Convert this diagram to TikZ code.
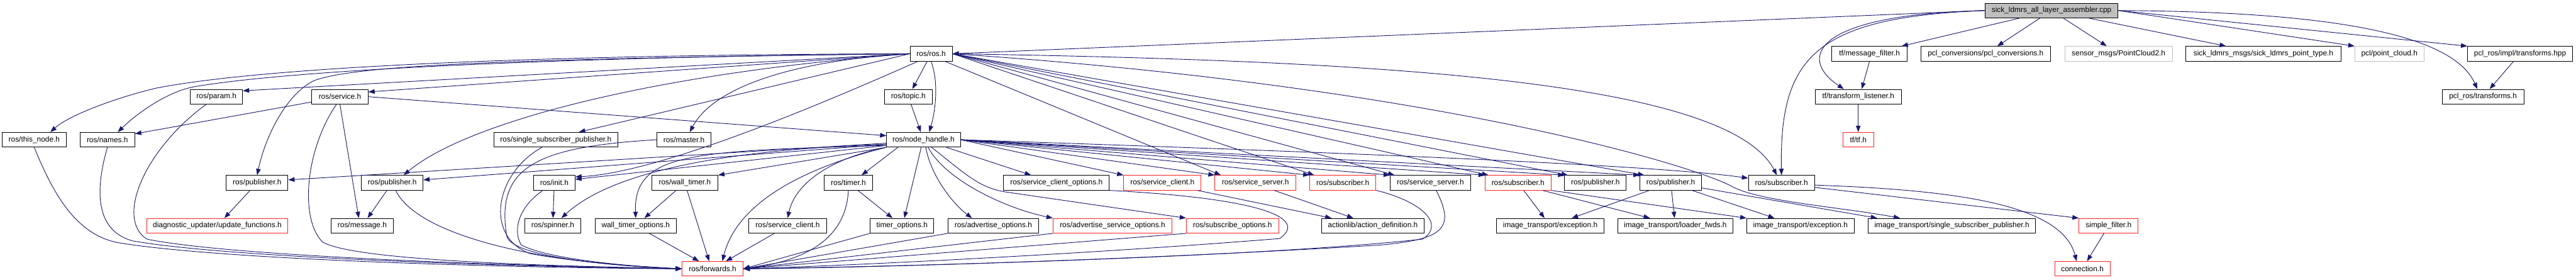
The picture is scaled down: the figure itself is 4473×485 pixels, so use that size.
\documentclass[tikz,border=0pt]{standalone}
\usepackage{fontspec}
\setmainfont{Liberation Sans}
\usetikzlibrary{arrows.meta,calc}
\definecolor{edgeblue}{HTML}{191970}
\definecolor{nfgray}{HTML}{BFBFBF}
\definecolor{boxred}{HTML}{FF2020}
\tikzset{
  box/.style={draw=black, line width=1pt, fill=white, inner sep=0pt, text=black,
    font=\fontsize{13}{15}\selectfont},
  redbox/.style={box, draw=boxred},
  graybox/.style={box, draw=nfgray},
  mainbox/.style={box, fill=nfgray},
  e/.style={draw=edgeblue, line width=1pt, -{Triangle[length=11pt,width=8pt]}},
}
\newcommand\mkbox[6]{%
  \node[#5, minimum width={#3pt-#2pt}, minimum height=25.5pt, anchor=center]
    (#1) at ({(#2+#3)/2},#4) {#6};}
\begin{document}
\begin{tikzpicture}[x=1pt,y=-1pt]
\useasboundingbox (0,0) rectangle (4473,485);
% row 0
\mkbox{cpp}{3446.7}{3677.9}{18.3}{mainbox}{sick\_ldmrs\_all\_layer\_assembler.cpp}
% row 1
\mkbox{ros}{1580.3}{1653.5}{93.3}{box}{ros/ros.h}
\mkbox{msgfilter}{3181}{3311.4}{93.3}{box}{tf/message\_filter.h}
\mkbox{pclconv}{3335.7}{3560.1}{93.3}{box}{pcl\_conversions/pcl\_conversions.h}
\mkbox{pctwo}{3585.3}{3772}{93.3}{graybox}{sensor\_msgs/PointCloud2.h}
\mkbox{ptype}{3795.6}{4064.8}{93.3}{box}{sick\_ldmrs\_msgs/sick\_ldmrs\_point\_type.h}
\mkbox{pcloud}{4089}{4208.8}{93.3}{graybox}{pcl/point\_cloud.h}
\mkbox{tfhpp}{4284.7}{4467}{93.3}{box}{pcl\_ros/impl/transforms.hpp}
% row 2
\mkbox{param}{330.6}{421.2}{167.8}{box}{ros/param.h}
\mkbox{service}{541.5}{639}{167.8}{box}{ros/service.h}
\mkbox{topic}{1535.7}{1618.6}{167.8}{box}{ros/topic.h}
\mkbox{listener}{3152}{3301.3}{167.8}{box}{tf/transform\_listener.h}
\mkbox{tfh}{4240.8}{4382.3}{167.8}{box}{pcl\_ros/transforms.h}
% row 3
\mkbox{thisnode}{3.9}{114.9}{242.5}{box}{ros/this\_node.h}
\mkbox{names}{139}{234}{242.5}{box}{ros/names.h}
\mkbox{ssp}{857.8}{1072.5}{242.5}{box}{ros/single\_subscriber\_publisher.h}
\mkbox{master}{1140.4}{1234.9}{242.5}{box}{ros/master.h}
\mkbox{nh}{1539.6}{1667.6}{242.5}{box}{ros/node\_handle.h}
\mkbox{tftf}{3200}{3253.3}{242.5}{redbox}{tf/tf.h}
% row 4
\mkbox{pubA}{393}{500}{317.2}{box}{ros/publisher.h}
\mkbox{pubB}{627.7}{734.5}{317.2}{box}{ros/publisher.h}
\mkbox{init}{926.6}{998.4}{317.2}{box}{ros/init.h}
\mkbox{walltimer}{1131.7}{1246.5}{317.2}{box}{ros/wall\_timer.h}
\mkbox{timer}{1431.2}{1515}{317.2}{box}{ros/timer.h}
\mkbox{sco}{1742.7}{1926}{317.2}{box}{ros/service\_client\_options.h}
\mkbox{scR}{1951.2}{2085.5}{317.2}{redbox}{ros/service\_client.h}
\mkbox{ssR}{2109.7}{2250}{317.2}{redbox}{ros/service\_server.h}
\mkbox{subR1}{2274.3}{2389.2}{317.2}{redbox}{ros/subscriber.h}
\mkbox{ssB}{2413.9}{2553.5}{317.2}{box}{ros/service\_server.h}
\mkbox{subR2}{2578.7}{2693.1}{317.2}{redbox}{ros/subscriber.h}
\mkbox{pubC}{2716.9}{2823.6}{317.2}{box}{ros/publisher.h}
\mkbox{pubD}{2847.7}{2954.6}{317.2}{box}{ros/publisher.h}
\mkbox{subB}{3036.1}{3150.5}{317.2}{box}{ros/subscriber.h}
% row 5
\mkbox{diag}{254.5}{500}{391.8}{redbox}{diagnostic\_updater/update\_functions.h}
\mkbox{message}{575}{683}{391.8}{box}{ros/message.h}
\mkbox{spinner}{911}{1008.5}{391.8}{box}{ros/spinner.h}
\mkbox{wto}{1033.3}{1174.3}{391.8}{box}{wall\_timer\_options.h}
\mkbox{scB}{1300.4}{1435}{391.8}{box}{ros/service\_client.h}
\mkbox{tmo}{1511}{1621.5}{391.8}{box}{timer\_options.h}
\mkbox{ao}{1646.3}{1803.3}{391.8}{box}{ros/advertise\_options.h}
\mkbox{aso}{1828.5}{2035}{391.8}{redbox}{ros/advertise\_service\_options.h}
\mkbox{so}{2060}{2220.2}{391.8}{redbox}{ros/subscribe\_options.h}
\mkbox{actdef}{2294.6}{2473}{391.8}{box}{actionlib/action\_definition.h}
\mkbox{excA}{2598.6}{2785.2}{391.8}{box}{image\_transport/exception.h}
\mkbox{loader}{2809}{3009}{391.8}{box}{image\_transport/loader\_fwds.h}
\mkbox{excB}{3033.2}{3219.3}{391.8}{box}{image\_transport/exception.h}
\mkbox{itssp}{3244}{3534.4}{391.8}{box}{image\_transport/single\_subscriber\_publisher.h}
\mkbox{simple}{3610}{3712.8}{391.8}{redbox}{simple\_filter.h}
% row 6
\mkbox{fwd}{1184.5}{1290.2}{466.5}{redbox}{ros/forwards.h}
\mkbox{conn}{3567.9}{3663.8}{466.5}{redbox}{connection.h}

% ---- from the cpp file
\draw[e] (cpp.west) -- (ros.east);
\draw[e] (cpp.west) .. controls (3150,25) and (3120,100) .. ($(listener.north)+(-25,0)$);
\draw[e] (cpp.west) .. controls (3150,30) and (3090,100) .. (subB.north);
\draw[e] (cpp) -- (msgfilter);
\draw[e] (cpp) -- (pclconv);
\draw[e] (cpp) -- (pctwo);
\draw[e] (cpp) -- (ptype);
\draw[e] (cpp.east) -- (pcloud.north west);
\draw[e] (cpp.east) -- (tfhpp.north west);
\draw[e] (cpp.east) .. controls (4050,20) and (4260,60) .. ($(tfh.north)+(-10,0)$);
\draw[e] (msgfilter.south) -- ($(listener.north)+(6,0)$);
\draw[e] (listener) -- (tftf);
\draw[e] (tfhpp) -- (tfh);

% ---- from ros/ros.h
\draw[e] (ros) -- (topic);
\draw[e] (ros.south) .. controls (1632,150) and (1622,200) .. ($(nh.north)+(10,0)$);
\draw[e] (topic) -- (nh);
\draw[e] (ros.west) .. controls (900,95) and (450,118) .. (271,153) .. controls (200,170) and (120,200) .. ($(thisnode.north)+(28,0)$);
\draw[e] (ros.west) .. controls (900,100) and (480,125) .. (335,151) .. controls (290,160) and (240,195) .. ($(names.north)+(18,0)$);
\draw[e] (ros.west) -- ($(param.north east)+(0,3)$);
\draw[e] (ros.west) -- ($(service.north east)+(0,5)$);
\draw[e] (ros.west) .. controls (900,102) and (620,112) .. (545,140) .. controls (495,165) and (460,240) .. (pubA.north);
\draw[e] (ros.west) .. controls (1100,130) and (800,220) .. ($(pubB.north)+(20,0)$);
\draw[e] (ros.west) -- ($(ssp.north)+(40,0)$);
\draw[e] (ros.west) .. controls (1380,105) and (1240,150) .. ($(master.north)+(10,0)$);
\draw[e] ($(ros.south west)+(14,0)$) .. controls (1450,170) and (1150,300) .. ($(init.north east)+(0,3)$);
\draw[e] ($(ros.south east)+(-13,0)$) -- ($(ssR.north)+(-60,0)$);
\draw[e] (ros.east) -- ($(subR1.north west)+(8,0)$);
\draw[e] (ros.east) -- ($(ssB.north west)+(8,0)$);
\draw[e] (ros.east) -- ($(subR2.north west)+(6,0)$);
\draw[e] (ros.east) -- ($(pubC.north west)+(6,0)$);
\draw[e] (ros.east) -- ($(pubD.north west)+(8,0)$);
\draw[e] (ros.east) .. controls (2400,105) and (3000,140) .. ($(subB.north)+(-8,0)$);
\draw[e] (ros.east) .. controls (2500,150) and (2950,290) .. (3010,325) .. controls (3060,350) and (3200,360) .. ($(itssp.north)+(-90,0)$);

% ---- from ros/service.h
\draw[e] (service.east) -- ($(nh.west)+(0,-7)$);
\draw[e] ($(service.south west)+(0,-4)$) -- ($(names.north east)+(0,3)$);
\draw[e] (service.south) -- ($(message.north)+(-6,0)$);
\draw[e] ($(service.south)+(-6,0)$) .. controls (530,260) and (520,380) .. (560,420) .. controls (620,455) and (1000,462) .. (fwd.west);

% ---- into ros/forwards.h from the left
\draw[e] ($(param.south west)+(28,0)$) .. controls (250,260) and (200,380) .. (255,415) .. controls (400,445) and (900,462) .. (fwd.west);
\draw[e] (names.south) .. controls (165,330) and (165,400) .. (230,418) .. controls (400,448) and (900,463) .. (fwd.west);
\draw[e] (thisnode.south) .. controls (90,330) and (130,410) .. (210,422) .. controls (400,452) and (900,465) .. (fwd.west);
\draw[e] (pubA) -- (diag);
\draw[e] (pubB) -- (message);
\draw[e] ($(pubB.south)+(6,0)$) .. controls (720,400) and (900,455) .. (fwd.west);
\draw[e] ($(ssp.south)+(-24,0)$) .. controls (860,300) and (840,410) .. (920,440) .. controls (1000,455) and (1100,462) .. (fwd.west);
\draw[e] (master.west) .. controls (930,255) and (860,290) .. (880,410) .. controls (890,450) and (1100,463) .. (fwd.west);
\draw[e] ($(init.south)+(-20,0)$) .. controls (900,360) and (890,400) .. (905,425) .. controls (950,450) and (1100,463) .. (fwd.west);
\draw[e] (init) -- (spinner);
\draw[e] (walltimer) -- (wto);
\draw[e] ($(walltimer.south)+(4,0)$) -- ($(fwd.north)+(-6,0)$);
\draw[e] (timer) -- (tmo);
\draw[e] (timer.south) .. controls (1470,400) and (1420,450) .. (fwd.east);
\draw[e] (scB) -- (fwd);
\draw[e] (wto) -- (fwd);

% ---- into ros/forwards.h from the right
\draw[e] (tmo.south west) -- (fwd.east);
\draw[e] (ao.south west) -- (fwd.east);
\draw[e] (aso.south west) -- (fwd.east);
\draw[e] (so.south west) -- (fwd.east);
\draw[e] ($(ssB.south)+(10,0)$) .. controls (2530,400) and (2500,415) .. (2400,425) .. controls (2000,450) and (1500,465) .. (fwd.east);
\draw[e] (subR1.south east) .. controls (2470,350) and (2510,390) .. (2470,415) .. controls (2200,445) and (1600,462) .. (fwd.east);
\draw[e] (sco.south east) .. controls (2200,345) and (2270,380) .. (2222,414) .. controls (1900,440) and (1500,460) .. (fwd.east);

% ---- from ros/node_handle.h, left
\draw[e] ($(nh.west)+(0,6)$) -- ($(pubA.east)+(0,-5)$);
\draw[e] ($(nh.west)+(0,8)$) -- ($(pubB.east)+(0,-5)$);
\draw[e] ($(nh.west)+(0,10)$) -- ($(init.east)+(0,-6)$);
\draw[e] ($(nh.west)+(0,8)$) .. controls (1250,260) and (1060,300) .. ($(spinner.north)+(15,0)$);
\draw[e] ($(nh.west)+(0,10)$) .. controls (1200,262) and (1100,265) .. (wto.north);
\draw[e] (nh.south west) -- (walltimer.north east);
\draw[e] (nh.south west) .. controls (1400,290) and (1280,350) .. ($(fwd.north)+(17,0)$);
\draw[e] (nh.south west) .. controls (1440,275) and (1380,320) .. (scB.north);
\draw[e] ($(nh.south west)+(20,0)$) -- ($(timer.north)+(23,0)$);
\draw[e] ($(nh.south)+(-4,0)$) -- ($(tmo.north)+(4,0)$);
\draw[e] ($(nh.south)+(4,0)$) .. controls (1615,300) and (1650,350) .. ($(ao.north)+(-37,0)$);
\draw[e] ($(nh.south)+(8,0)$) .. controls (1640,310) and (1740,360) .. (aso.north west);
\draw[e] ($(nh.south)+(14,0)$) .. controls (1680,305) and (1700,325) .. (1745,333) -- (so.north west);

% ---- from ros/node_handle.h, right
\draw[e] ($(nh.south east)+(-25,0)$) -- ($(sco.north)+(-44,0)$);
\draw[e] (nh.east) -- (scR.north west);
\draw[e] (nh.east) -- (ssR.north west);
\draw[e] (nh.east) -- (subR1.north west);
\draw[e] (nh.east) -- (ssB.north west);
\draw[e] (nh.east) -- (subR2.north west);
\draw[e] (nh.east) -- (pubC.north west);
\draw[e] (nh.east) -- (pubD.north west);
\draw[e] (nh.east) .. controls (2500,270) and (2900,290) .. ($(subB.west)+(0,-8)$);

% ---- remaining
\draw[e] ($(scR.south east)+(-7,0)$) -- ($(actdef.north west)+(18,0)$);
\draw[e] ($(ssR.south east)+(-38,0)$) -- ($(actdef.north west)+(56,0)$);
\draw[e] (subR2) -- (excA);
\draw[e] ($(subR2.south east)+(-15,0)$) -- ($(loader.north)+(-44,0)$);
\draw[e] (subR2.south east) -- (excB.north west);
\draw[e] (pubD) -- (excA);
\draw[e] (pubD) -- (loader);
\draw[e] ($(pubD.south east)+(-17,0)$) -- ($(excB.north)+(-45,0)$);
\draw[e] ($(pubD.east)+(0,9)$) -- ($(itssp.north west)+(16,0)$);
\draw[e] ($(subB.east)+(0,8)$) -- (simple.north west);
\draw[e] ($(subB.east)+(0,4)$) .. controls (3400,330) and (3580,355) .. ($(conn.north)+(-10,0)$);
\draw[e] (simple) -- (conn);
\end{tikzpicture}
\end{document}
